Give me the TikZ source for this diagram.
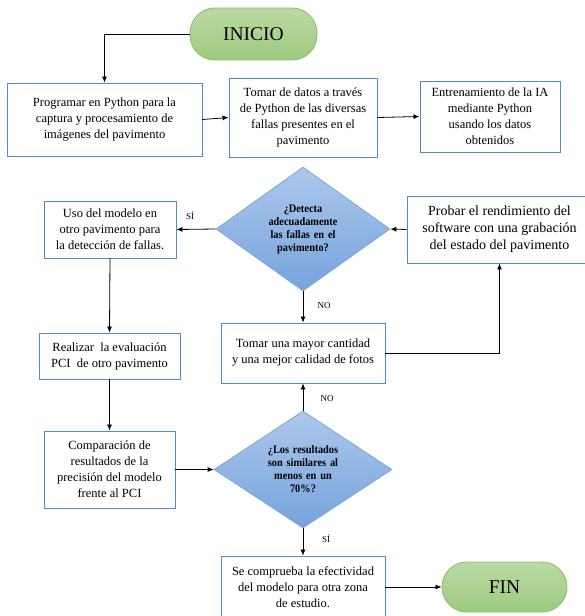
\documentclass[tikz,border=0pt]{standalone}
\usepackage{fontspec}
\setmainfont{Liberation Serif}
\newfontfamily\diafont[FakeStretch=0.9]{Liberation Serif}
\usepackage{tikz}
\usetikzlibrary{shapes.geometric,arrows.meta}

\definecolor{bordeazul}{RGB}{86,134,207}
\definecolor{diaclaro}{RGB}{172,200,236}
\definecolor{diaoscuro}{RGB}{118,163,219}
\definecolor{diaborde}{RGB}{125,168,222}
\definecolor{verdeclaro}{RGB}{186,218,163}
\definecolor{verdeoscuro}{RGB}{158,202,128}
\definecolor{verdeborde}{RGB}{140,193,104}

\tikzset{
  caja/.style={draw=bordeazul, line width=0.9pt, fill=white, align=center, inner sep=2pt,
    font=\fontsize{12.5}{16}\selectfont},
  decision/.style={diamond, draw=diaborde, line width=0.8pt, top color=diaclaro, bottom color=diaoscuro,
    inner sep=0pt, align=center, text width=82pt, font=\diafont\bfseries\fontsize{11.5}{13}\selectfont},
  terminal/.style={draw=verdeborde, line width=0.9pt, top color=verdeclaro, bottom color=verdeoscuro,
    rounded corners=25pt, font=\fontsize{19.5}{22}\selectfont},
  flecha/.style={-{Latex[length=6pt,width=5pt]}, line width=0.8pt},
  etiq/.style={font=\fontsize{9}{10}\selectfont}
}

\begin{document}
\begin{tikzpicture}[x=1pt,y=-1pt]
  \useasboundingbox (0,0) rectangle (585,616);
  \clip (0,0) rectangle (585,616);

  % fila de arriba
  \node[terminal, minimum width=127pt, minimum height=52pt] (inicio) at (253.5,34) {INICIO};
  \node[caja, minimum width=195pt, minimum height=73pt] (programar) at (104.5,119.5)
    {Programar en Python para la\\captura y procesamiento de\\imágenes del pavimento};
  \node[caja, minimum width=148pt, minimum height=79pt] (datos) at (303,117.5)
    {Tomar de datos a través\\de Python de las diversas\\fallas presentes en el\\pavimento};
  \node[caja, minimum width=140pt, minimum height=71pt] (entrenar) at (490,116.5)
    {Entrenamiento de la IA\\mediante Python\\usando los datos\\obtenidos};

  % primera decision
  \node[decision, shape aspect=1.4, minimum width=174pt, minimum height=124pt] (detecta) at (303,229)
    {¿Detecta\\adecuadamente\\las fallas en el\\pavimento?};
  \node[caja, minimum width=132pt, minimum height=57pt] (uso) at (110,229.5)
    {Uso del modelo en\\otro pavimento para\\la detección de fallas.};
  \node[caja, minimum width=185pt, minimum height=67pt, font=\fontsize{14}{17}\selectfont] (probar) at (499.5,229.5)
    {Probar el rendimiento del\\software con una grabación\\del estado del pavimento};
  \node[caja, minimum width=164pt, minimum height=60pt] (mayor) at (303,353)
    {Tomar una mayor cantidad\\y una mejor calidad de fotos};
  \node[caja, minimum width=141pt, minimum height=46pt] (realizar) at (109.5,356)
    {Realizar \ la evaluación\\PCI \ de otro pavimento};

  % segunda decision
  \node[caja, minimum width=131pt, minimum height=77pt] (comparar) at (109.5,469.5)
    {Comparación de\\resultados de la\\precisión del modelo\\frente al PCI};
  \node[decision, shape aspect=1.52, minimum width=178pt, minimum height=117pt] (similares) at (303,469.5)
    {¿Los resultados\\son similares al\\menos en un\\70\%?};
  \node[caja, minimum width=164pt, minimum height=62pt] (comprueba) at (303,587)
    {Se comprueba la efectividad\\del modelo para otra zona\\de estudio.};
  \node[terminal, minimum width=125pt, minimum height=50pt] (fin) at (504.5,587) {FIN};

  % etiquetas
  \node[etiq] (si1) at (190,216) {SÍ};
  \node[etiq] (no1) at (324,306) {NO};
  \node[etiq] (no2) at (327,399) {NO};
  \node[etiq] (si2) at (326,539) {SÍ};

  % conectores
  \draw[flecha] (inicio.west) -| (programar.north);
  \draw[flecha] (programar.east) -- (datos.west);
  \draw[flecha] (datos.east) -- (entrenar.west);
  \draw[flecha] (probar.west) -- (detecta.east);
  \draw[flecha] (detecta.west) -- (uso.east);
  \draw[flecha] (detecta.south) -- (mayor.north);
  \draw[flecha] (mayor.east) -| (probar.south);
  \draw[flecha] (uso.south) -- (realizar.north);
  \draw[flecha] (realizar.south) -- (comparar.north);
  \draw[flecha] (comparar.east) -- (similares.west);
  \draw[flecha] (similares.north) -- (mayor.south);
  \draw[flecha] (similares.south) -- (comprueba.north);
  \draw[flecha] (comprueba.east) -- (fin.west);
\end{tikzpicture}
\end{document}
